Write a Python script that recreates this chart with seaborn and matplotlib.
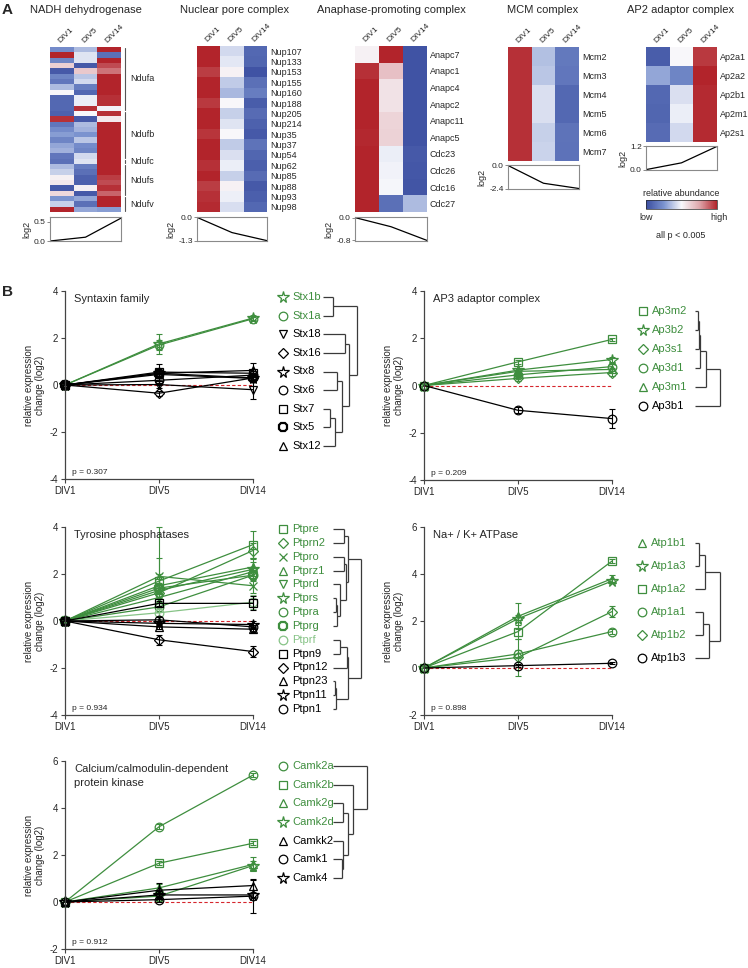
import numpy as np
import matplotlib
matplotlib.use('Agg')
import matplotlib.pyplot as plt
import seaborn as sns
from matplotlib.colors import LinearSegmentedColormap

sns.set_style('ticks')
plt.rcParams['font.family'] = ['Liberation Sans', 'DejaVu Sans']
plt.rcParams['axes.unicode_minus'] = False

# ---------------- data: panel A heatmaps ----------------
days = ['DIV1', 'DIV5', 'DIV14']

nadh_vals = [
    [-0.55, -0.3, 1.0], [1.0, -0.1, -0.75], [-0.6, -0.1, 1.0], [0.25, -0.9, 0.85],
    [-0.9, 0.3, 0.7], [-0.6, -0.25, 1.0], [-0.7, -0.15, 1.0], [-0.3, -0.65, 1.0],
    [0.0, -0.8, 1.0], [-0.8, -0.05, 0.95], [-0.8, -0.05, 0.95], [-0.8, 0.95, -0.03],
    [-0.85, 0.0, 0.95], [0.95, -0.9, 0.1], [-0.7, -0.3, 1.0], [-0.55, -0.35, 1.0],
    [-0.45, -0.5, 1.0], [-0.6, -0.25, 1.0], [-0.4, -0.55, 1.0], [-0.35, -0.6, 1.0],
    [-0.7, -0.15, 1.0], [-0.75, -0.1, 1.0], [-0.3, -0.65, 1.0], [-0.2, -0.75, 1.0],
    [0.05, -0.85, 0.9], [0.1, -0.85, 0.85], [-0.9, 0.05, 0.95], [0.2, -0.9, 0.75],
    [-0.5, -0.4, 1.0], [-0.2, -0.75, 1.0], [1.0, -0.4, -0.45],
]
nadh_groups = ['Ndufa', 'Ndufb', 'Ndufc', 'Ndufs', 'Ndufv']
nadh_group_rows = [(0, 11), (12, 20), (21, 21), (22, 27), (28, 30)]
nadh_trend = [0.0, 0.1, 0.6]

npc_genes = ['Nup107', 'Nup133', 'Nup153', 'Nup155', 'Nup160', 'Nup188', 'Nup205', 'Nup214',
             'Nup35', 'Nup37', 'Nup54', 'Nup62', 'Nup85', 'Nup88', 'Nup93', 'Nup98']
npc_vals = [
    [1.0, -0.15, -0.8], [1.0, -0.08, -0.82], [0.9, 0.04, -0.95], [1.0, -0.22, -0.75],
    [1.0, -0.32, -0.65], [0.92, 0.0, -0.88], [1.0, -0.2, -0.78], [1.0, -0.1, -0.85],
    [0.93, 0.0, -0.9], [1.0, -0.22, -0.72], [1.0, -0.12, -0.82], [0.95, -0.05, -0.86],
    [1.0, -0.2, -0.78], [0.9, 0.04, -0.9], [0.95, -0.04, -0.86], [0.97, -0.13, -0.8],
]
npc_trend = [0.0, -0.85, -1.3]

apc_genes = ['Anapc7', 'Anapc1', 'Anapc4', 'Anapc2', 'Anapc11', 'Anapc5',
             'Cdc23', 'Cdc26', 'Cdc16', 'Cdc27']
apc_vals = [
    [0.04, 1.0, -0.95], [0.95, 0.35, -0.95], [1.0, 0.14, -0.95], [1.0, 0.14, -0.95],
    [1.0, 0.22, -0.95], [0.98, 0.24, -0.95], [1.0, -0.05, -0.9], [1.0, -0.03, -0.92],
    [1.0, -0.01, -0.93], [1.0, -0.75, -0.3],
]
apc_trend = [0.0, -0.32, -0.8]

mcm_genes = ['Mcm2', 'Mcm3', 'Mcm4', 'Mcm5', 'Mcm6', 'Mcm7']
mcm_vals = [
    [0.95, -0.28, -0.68], [0.95, -0.25, -0.7], [0.95, -0.12, -0.8],
    [0.95, -0.12, -0.8], [0.95, -0.2, -0.72], [0.95, -0.18, -0.73],
]
mcm_trend = [0.0, -1.85, -2.4]

ap2_genes = ['Ap2a1', 'Ap2a2', 'Ap2b1', 'Ap2m1', 'Ap2s1']
ap2_vals = [
    [-0.88, 0.0, 0.92], [-0.4, -0.6, 1.0], [-0.8, -0.12, 0.97],
    [-0.82, -0.05, 0.97], [-0.78, -0.15, 0.97],
]
ap2_trend = [0.0, 0.35, 1.2]

# ---------------- data: panel B line charts ----------------
syn_genes = ['Stx1b', 'Stx1a', 'Stx18', 'Stx16', 'Stx8', 'Stx6', 'Stx7', 'Stx5', 'Stx12']
syn_green = [1, 1, 0, 0, 0, 0, 0, 0, 0]
syn_vals = [[0, 1.75, 2.85], [0, 1.7, 2.82], [0, 0.02, -0.2], [0, -0.35, 0.3], [0, 0.5, 0.3],
            [0, 0.2, 0.42], [0, 0.55, 0.5], [0, 0.45, 0.28], [0, 0.5, 0.62]]
syn_err = [[0, 0.42, 0.08], [0, 0.2, 0.08], [0, 0.15, 0.4], [0, 0.1, 0.1], [0, 0.15, 0.15],
           [0, 0.1, 0.1], [0, 0.1, 0.1], [0, 0.45, 0.15], [0, 0.2, 0.3]]
syn_tree = ((0, 1, 0.3), ((2, 3, 0.65), ((4, 5, 0.4), ((6, 7, 0.2), 8, 0.35), 0.55), 0.75), 1.0)
syn_p = 'p = 0.307'

ap3_genes = ['Ap3m2', 'Ap3b2', 'Ap3s1', 'Ap3d1', 'Ap3m1', 'Ap3b1']
ap3_green = [1, 1, 1, 1, 1, 0]
ap3_vals = [[0, 1.0, 1.95], [0, 0.65, 1.1], [0, 0.3, 0.55], [0, 0.45, 0.8], [0, 0.6, 0.68],
            [0, -1.05, -1.4]]
ap3_err = [[0, 0.08, 0.05], [0, 0.08, 0.1], [0, 0.1, 0.15], [0, 0.1, 0.1], [0, 0.08, 0.08],
           [0, 0.12, 0.42]]
ap3_tree = (((((0, 1, 0.12), 2, 0.16), 3, 0.2), 4, 0.45), 5, 1.0)
ap3_p = 'p = 0.209'

tyr_genes = ['Ptpre', 'Ptprn2', 'Ptpro', 'Ptprz1', 'Ptprd', 'Ptprs', 'Ptpra', 'Ptprg', 'Ptprf',
             'Ptpn9', 'Ptpn12', 'Ptpn23', 'Ptpn11', 'Ptpn1']
tyr_green = [1, 1, 1, 1, 1, 1, 1, 1, 2, 0, 0, 0, 0, 0]
tyr_vals = [[0, 1.7, 3.25], [0, 1.2, 3.0], [0, 1.9, 1.5], [0, 1.5, 2.3], [0, 1.0, 2.1],
            [0, 1.3, 2.2], [0, 0.6, 1.95], [0, 1.4, 1.95], [0, 0.35, 0.8], [0, 0.75, 0.75],
            [0, -0.8, -1.3], [0, -0.25, -0.35], [0, -0.1, -0.15], [0, 0.05, -0.25]]
tyr_err = [[0, 0.3, 0.6], [0, 0.2, 0.3], [0, 2.1, 0.3], [0, 0.3, 0.2], [0, 0.2, 0.2],
           [0, 1.4, 0.5], [0, 0.2, 0.15], [0, 0.2, 0.2], [0, 0.2, 0.3], [0, 0.1, 0.3],
           [0, 0.2, 0.25], [0, 0.1, 0.1], [0, 0.1, 0.15], [0, 0.1, 0.1]]
tyr_tree = (((0, 1, 0.4), ((2, 3, 0.4), (4, ((5, 6, 0.1), 7, 0.15), 0.25), 0.45), 0.55),
            (((8, 9, 0.25), 10, 0.5), ((11, 12, 0.08), 13, 0.12), 0.55), 1.0)
tyr_p = 'p = 0.934'

nak_genes = ['Atp1b1', 'Atp1a3', 'Atp1a2', 'Atp1a1', 'Atp1b2', 'Atp1b3']
nak_green = [1, 1, 1, 1, 1, 0]
nak_vals = [[0, 2.2, 3.8], [0, 2.1, 3.7], [0, 1.55, 4.55], [0, 0.6, 1.55], [0, 0.45, 2.4],
            [0, 0.1, 0.2]]
nak_err = [[0, 0.55, 0.15], [0, 0.15, 0.1], [0, 0.3, 0.08], [0, 0.15, 0.1], [0, 0.8, 0.25],
           [0, 0.05, 0.05]]
nak_tree = (((0, 1, 0.15), 2, 0.4), ((3, 4, 0.3), 5, 0.55), 1.0)
nak_p = 'p = 0.898'

camk_genes = ['Camk2a', 'Camk2b', 'Camk2g', 'Camk2d', 'Camkk2', 'Camk1', 'Camk4']
camk_green = [1, 1, 1, 1, 0, 0, 0]
camk_vals = [[0, 3.2, 5.4], [0, 1.65, 2.5], [0, 0.6, 1.6], [0, 0.25, 1.55], [0, 0.5, 0.7],
             [0, 0.1, 0.25], [0, 0.3, 0.3]]
camk_err = [[0, 0.1, 0.08], [0, 0.08, 0.08], [0, 0.15, 0.3], [0, 0.2, 0.2], [0, 0.3, 0.3],
            [0, 0.1, 0.7], [0, 0.15, 0.1]]
camk_tree = (0, (1, ((2, 3, 0.3), (4, (5, 6, 0.25), 0.3), 0.43), 0.58), 1.0)
camk_p = 'p = 0.912'

# marker styles per series
syn_mk = ['*', 'o', 'v', 'D', '*', 'o', 's', '8', '^']
ap3_mk = ['s', '*', 'D', 'o', '^', 'o']
tyr_mk = ['s', 'D', 'x', '^', 'v', '*', 'o', '8', 'o', 's', 'D', '^', '*', 'o']
nak_mk = ['^', '*', 's', 'o', 'D', 'o']
camk_mk = ['o', 's', '^', '*', '^', 'o', '*']

# ---------------- figure ----------------
W, H = 748, 968
fig = plt.figure(figsize=(W / 100, H / 100), dpi=100)
GREEN = '#3e8e3e'
LIGHTGREEN = '#86c386'
AXC = '#444444'
cmap = LinearSegmentedColormap.from_list(
    'abund', ['#3a4c9f', '#7b93cf', '#f8f8fb', '#dfa8ad', '#b2242b'])


def box(x0, y0, x1, y1):
    return fig.add_axes([x0 / W, 1 - y1 / H, (x1 - x0) / W, (y1 - y0) / H])


def ftext(x, y, s, **kw):
    fig.text(x / W, 1 - y / H, s, **kw)


def heat(rect, vals, genes, title, tx):
    ax = box(*rect)
    sns.heatmap(np.array(vals), cmap=cmap, vmin=-1, vmax=1, cbar=False, ax=ax,
                xticklabels=days, yticklabels=genes if genes else False)
    ax.xaxis.tick_top()
    ax.set_xticklabels(days, rotation=45, ha='left', va='bottom',
                       rotation_mode='anchor', fontsize=6)
    for lab in ax.get_xticklabels():
        lab.set_x(lab.get_position()[0] - 0.25)
    if genes:
        ax.yaxis.tick_right()
        ax.set_yticklabels(genes, rotation=0, fontsize=6.5)
    ax.tick_params(length=0, pad=2)
    ftext(tx, 10, title, ha='center', va='center', fontsize=8)
    return ax


def trend(rect, vals, ticks, ylim):
    ax = box(*rect)
    sns.lineplot(x=[0, 1, 2], y=vals, ax=ax, color='black', lw=0.9)
    ax.set_xlim(0, 2)
    ax.set_ylim(*ylim)
    ax.set_xticks([])
    ax.set_yticks(ticks)
    ax.set_yticklabels(['%.1f' % t for t in ticks], fontsize=6)
    ax.tick_params(axis='y', length=2, width=0.6, pad=1, color='#777')
    for s in ax.spines.values():
        s.set_color('#8a8a8a')
        s.set_linewidth(0.8)
    ax.set_ylabel('log2', fontsize=6.5, labelpad=2)


ftext(2, 10, 'A', fontsize=11, fontweight='bold', va='center')

ax = heat((50, 47, 121, 212), nadh_vals, None, 'NADH dehydrogenase', 86)
for g, (r0, r1) in zip(nadh_groups, nadh_group_rows):
    ax.plot([3.17, 3.17], [r0 + 0.15, r1 + 0.85], color='#555', lw=0.8, clip_on=False)
    ax.text(3.38, (r0 + r1 + 1) / 2, g, fontsize=6.5, va='center')
trend((50, 217, 121, 241), nadh_trend, [0.0, 0.5], (0, 0.63))

heat((197, 46, 267, 212), npc_vals, npc_genes, 'Nuclear pore complex', 235)
trend((197, 217, 267, 241), npc_trend, [0.0, -1.3], (-1.32, 0.02))

heat((355, 46, 427, 212), apc_vals, apc_genes, 'Anaphase-promoting complex', 391)
trend((355, 217, 427, 241), apc_trend, [0.0, -0.8], (-0.82, 0.02))

heat((508, 47, 579, 161), mcm_vals, mcm_genes, 'MCM complex', 543)
trend((508, 165, 579, 189), mcm_trend, [0.0, -2.4], (-2.45, 0.05))

heat((646, 47, 717, 142), ap2_vals, ap2_genes, 'AP2 adaptor complex', 681)
trend((646, 146, 717, 170), ap2_trend, [0.0, 1.2], (-0.02, 1.22))

cax = box(646, 200, 717, 209)
sm = plt.cm.ScalarMappable(cmap=cmap, norm=plt.Normalize(-1, 1))
cb = fig.colorbar(sm, cax=cax, orientation='horizontal')
cb.set_ticks([])
cb.outline.set_linewidth(0.5)
ftext(681, 194, 'relative abundance', ha='center', va='center', fontsize=6.5)
ftext(646, 217, 'low', ha='center', va='center', fontsize=6.5)
ftext(719, 217, 'high', ha='center', va='center', fontsize=6.5)
ftext(681, 236, 'all p < 0.005', ha='center', va='center', fontsize=6.5)

# ---------------- panel B ----------------
ftext(2, 292, 'B', fontsize=11, fontweight='bold', va='center')


def col(flag):
    return {0: 'black', 1: GREEN, 2: LIGHTGREEN}[flag]


def msize(m):
    return {'*': 8.5, 'D': 5.2, 'x': 5.5, '8': 6.5}.get(m, 6.2)


def mwidth(m):
    return 1.6 if m == '8' else 0.9


def draw_tree(ax, node, x0, x1):
    if isinstance(node, int):
        return node, 0.0
    a, b, h = node
    ya, ha = draw_tree(ax, a, x0, x1)
    yb, hb = draw_tree(ax, b, x0, x1)
    xh = x0 + h * (x1 - x0)
    kw = dict(color='#3a3a3a', lw=0.9, solid_capstyle='butt')
    ax.plot([x0 + ha * (x1 - x0), xh], [ya, ya], **kw)
    ax.plot([x0 + hb * (x1 - x0), xh], [yb, yb], **kw)
    ax.plot([xh, xh], [ya, yb], **kw)
    return (ya + yb) / 2, h


def line_panel(rect, genes, green, vals, err, mks, ylim, title, ptxt,
               leg_rect, leaf_x, root_x, tree):
    ax = box(*rect)
    ax.axhline(0, color='#d6262d', ls=(0, (3, 2)), lw=0.8, zorder=0)
    x = [0, 1, 2]
    for g, f, v, e, m in zip(genes, green, vals, err, mks):
        c = col(f)
        sns.lineplot(x=x, y=v, ax=ax, color=c, lw=0.9, marker=m, ms=msize(m),
                     mfc='none', mec=c, mew=mwidth(m), clip_on=False, legend=False)
        ax.errorbar(x[1:], v[1:], yerr=e[1:], fmt='none', ecolor=c, elinewidth=0.8,
                    capsize=2.5, capthick=0.8, clip_on=False)
    ax.set_xlim(0, 2)
    ax.set_ylim(*ylim)
    ax.set_xticks(x)
    ax.set_xticklabels(days)
    ax.set_yticks(np.arange(ylim[0], ylim[1] + 1, 2))
    sns.despine(ax=ax)
    for s in ('left', 'bottom'):
        ax.spines[s].set_color(AXC)
        ax.spines[s].set_linewidth(0.9)
    ax.tick_params(labelsize=7, length=3, width=0.8, color=AXC, pad=2)
    ax.set_ylabel('relative expression\nchange (log2)', fontsize=7, labelpad=3)
    ax.text(0.05, 0.985, title, transform=ax.transAxes, fontsize=8, va='top',
            linespacing=1.55)
    ax.text(0.035, 0.015, ptxt, transform=ax.transAxes, fontsize=6, va='bottom')

    # legend with dendrogram
    lx0, ly0, lx1, ly1 = leg_rect
    lg = box(lx0, ly0, lx1, ly1)
    n = len(genes)
    lg.set_xlim(0, lx1 - lx0)
    lg.set_ylim(n - 0.5, -0.5)
    lg.axis('off')
    for i, (g, f, m) in enumerate(zip(genes, green, mks)):
        c = col(f)
        lg.plot([8], [i], marker=m, ms=msize(m), mfc='none', mec=c, mew=mwidth(m),
                ls='none', clip_on=False)
        lg.text(17, i, g, color=c, fontsize=8, va='center')
    draw_tree(lg, tree, leaf_x - lx0, root_x - lx0)


line_panel((65, 291, 253, 479), syn_genes, syn_green, syn_vals, syn_err, syn_mk, (-4, 4),
           'Syntaxin family', syn_p, (275, 287.7, 360, 455.3), 323, 357, syn_tree)
line_panel((424, 291, 612, 480), ap3_genes, ap3_green, ap3_vals, ap3_err, ap3_mk, (-4, 4),
           'AP3 adaptor complex', ap3_p, (635, 301.5, 725, 415.5), 695, 720, ap3_tree)
line_panel((65, 527, 253, 715), tyr_genes, tyr_green, tyr_vals, tyr_err, tyr_mk, (-4, 4),
           'Tyrosine phosphatases', tyr_p, (275, 522, 365, 716), 333, 361, tyr_tree)
line_panel((424, 527, 612, 715), nak_genes, nak_green, nak_vals, nak_err, nak_mk, (-2, 6),
           'Na+ / K+ ATPase', nak_p, (634, 531.5, 724, 669.5), 695, 720, nak_tree)
line_panel((65, 761, 253, 949), camk_genes, camk_green, camk_vals, camk_err, camk_mk, (-2, 6),
           'Calcium/calmodulin-dependent\nprotein kinase', camk_p,
           (275, 756.7, 370, 887.3), 333, 367, camk_tree)

fig.savefig('out.png', dpi=100)
